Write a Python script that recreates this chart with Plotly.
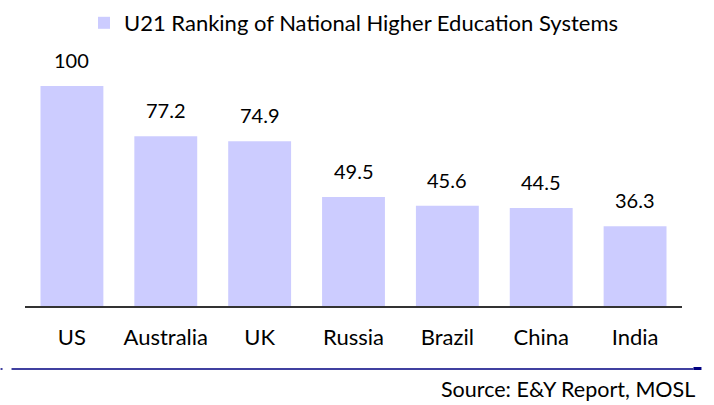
import plotly.graph_objects as go

# U21 ranking scores by country
countries = ["US", "Australia", "UK", "Russia", "Brazil", "China", "India"]
scores = [100, 77.2, 74.9, 49.5, 45.6, 44.5, 36.3]
series_name = "U21 Ranking of National Higher Education Systems"
source_note = "Source: E&Y Report, MOSL"

FONT = "Lato"
BAR = "#CCCCFF"

fig = go.Figure()
fig.add_trace(go.Bar(
    x=countries, y=scores, name=series_name,
    marker=dict(color=BAR, line=dict(width=0)),
    showlegend=True,
))

# value labels above bars
for c, v in zip(countries, scores):
    fig.add_annotation(
        x=c, y=v, xref="x", yref="y", text=f"{v:g}", showarrow=False,
        yanchor="bottom", yshift=12,
        font=dict(family=FONT, size=20, color="#000000"),
    )

# source rule and footer
rule_y = -(369 - 306) / 242
fig.add_shape(type="line", xref="paper", yref="paper",
              x0=(11 - 24.5) / 658, x1=(694 - 24.5) / 658,
              y0=rule_y, y1=rule_y,
              line=dict(color="#000080", width=1.5))
fig.add_shape(type="line", xref="paper", yref="paper",
              x0=(694 - 24.5) / 658, x1=(702 - 24.5) / 658,
              y0=rule_y + 0.5 / 242, y1=rule_y + 0.5 / 242,
              line=dict(color="#000080", width=3))
fig.add_shape(type="line", xref="paper", yref="paper",
              x0=(0 - 24.5) / 658, x1=(2 - 24.5) / 658,
              y0=rule_y, y1=rule_y,
              line=dict(color="#000080", width=1.5))
fig.add_annotation(
    xref="paper", yref="paper", x=(698 - 24.5) / 658, y=-(389 - 306) / 242,
    xanchor="right", yanchor="middle", text=source_note, showarrow=False,
    font=dict(family=FONT, size=21.5, color="#000000"),
)

fig.update_layout(
    width=714, height=405,
    margin=dict(l=24.5, r=31.5, t=64, b=99),
    paper_bgcolor="white", plot_bgcolor="white",
    bargap=0.33,
    font=dict(family=FONT, size=20, color="#000000"),
    legend=dict(
        orientation="h", xref="container", yref="container",
        x=84 / 714, y=1 - 23 / 405, xanchor="left", yanchor="middle",
        font=dict(family=FONT, size=22, color="#000000"),
        bgcolor="rgba(0,0,0,0)",
    ),
    xaxis=dict(
        showline=True, linecolor="#333333", linewidth=1.5,
        ticks="", tickfont=dict(family=FONT, size=22, color="#000000"),
        ticklabelstandoff=11, showgrid=False, zeroline=False,
    ),
    yaxis=dict(
        range=[0, 110], visible=False, showgrid=False, zeroline=False,
    ),
)

fig.write_html("out.html")
